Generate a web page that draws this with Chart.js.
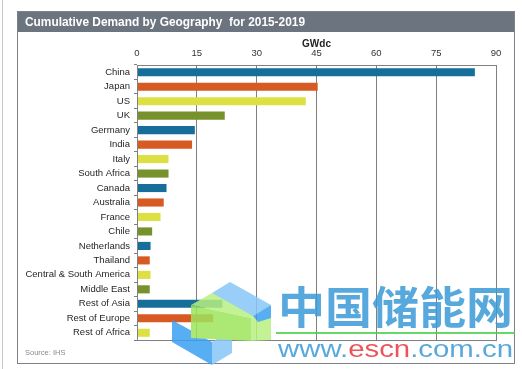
<!DOCTYPE html>
<html>
<head>
<meta charset="utf-8">
<script src="https://cdn.jsdelivr.net/npm/chart.js@4"></script>
<style>
  html, body { margin: 0; padding: 0; background: #fff; }
  #page { position: relative; width: 522px; height: 369px; overflow: hidden; }
  #edge { position: absolute; left: 2px; top: 0; width: 1px; height: 369px; background: #c9c9c9; }
  #frame { position: absolute; left: 17px; top: 11px; width: 498px; height: 353px; box-sizing: border-box; border: 1px solid #7d818a; }
  #titlebar { position: absolute; left: 0; top: 0; right: 0; height: 20px; background: #6c7480; }
  #chart { position: absolute; left: 0; top: 0; z-index: 1; }
  #overlay { position: absolute; left: 0; top: 0; z-index: 2; }
</style>
</head>
<body>
<div id="page">
  <div id="edge"></div>
  <div id="frame"><div id="titlebar"></div></div>
  <canvas id="chart" width="522" height="369"></canvas>
  <svg id="overlay" width="522" height="369" xmlns="http://www.w3.org/2000/svg">
    <text x="25" y="26" fill="#ffffff" font-family="Liberation Sans, Arial, sans-serif" font-weight="bold" font-size="13" textLength="280" lengthAdjust="spacingAndGlyphs" xml:space="preserve">Cumulative Demand by Geography  for 2015-2019</text>
    <text x="25" y="355" fill="#8a8a8a" font-family="Liberation Sans, Arial, sans-serif" font-size="7.5">Source: IHS</text>
    <!-- watermark -->
    <g opacity="0.85">
      <polygon points="172,320 212,342 212,365 172,342" fill="#3aa0f0"/>
      <polygon points="212,342 232,330 232,353 212,365" fill="#86c6f6"/>
      <polygon points="191,305 212,293 271,306 251,318" fill="#b8f080"/>
      <polygon points="191,305 251,318 251,341 191,338" fill="#9ee45c"/>
      <polygon points="251,318 271,306 271,340 251,341" fill="#b8f080"/>
      <polygon points="212,293 230,282 271,305 253,316" fill="#86c6f6"/>
      <polygon points="253,316 271,305 271,318 258,322" fill="#3aa0f0"/>
      <text x="278" y="324" fill="#3a9ad8" font-family="Noto Sans CJK SC" font-weight="bold" font-size="44" textLength="235" lengthAdjust="spacingAndGlyphs">中国储能网</text>
      <rect x="276" y="332" width="239" height="2" fill="#4cd24c"/>
      <text x="278" y="357" font-family="Liberation Sans, Arial, sans-serif" font-size="24" textLength="235" lengthAdjust="spacingAndGlyphs"><tspan fill="#3a9ad8">www.</tspan><tspan fill="#e8383d">escn</tspan><tspan fill="#3a9ad8">.com.cn</tspan></text>
    </g>
  </svg>
</div>
<script>
const regions = ["China", "Japan", "US", "UK", "Germany", "India", "Italy", "South Africa", "Canada", "Australia", "France", "Chile", "Netherlands", "Thailand", "Central & South America", "Middle East", "Rest of Asia", "Rest of Europe", "Rest of Africa"];
const demandGW = [84.7, 45.3, 42.3, 22, 14.5, 13.8, 7.9, 7.9, 7.4, 6.7, 5.9, 3.8, 3.4, 3.2, 3.4, 3.2, 21.4, 19.1, 3.2];
const xTicks = [0, 15, 30, 45, 60, 75, 90];
const palette = ["#156f9a", "#d75a23", "#dde043", "#77922c"];

const barColors = regions.map((r, i) => palette[i % palette.length]);

// box round the plot area
const plotBox = {
    id: "plotBox",
    afterDraw(chart) {
        const a = chart.chartArea;
        const ctx = chart.ctx;
        ctx.save();
        ctx.strokeStyle = "#808080";
        ctx.lineWidth = 1;
        ctx.strokeRect(Math.round(a.left) + 0.5, Math.round(a.top) + 0.5, Math.round(a.right - a.left), Math.round(a.bottom - a.top));
        ctx.restore();
    }
};

const font = { family: "'Liberation Sans', Arial, sans-serif", size: 9.5 };

new Chart(document.getElementById("chart"), {
    type: "bar",
    data: {
        labels: regions,
        datasets: [{
            data: demandGW,
            backgroundColor: barColors,
            barPercentage: 0.56,
            categoryPercentage: 1
        }]
    },
    options: {
        indexAxis: "y",
        responsive: false,
        animation: false,
        layout: { padding: { left: 0, top: 0, right: 26, bottom: 29 } },
        plugins: {
            legend: { display: false },
            tooltip: { enabled: false }
        },
        scales: {
            x: {
                position: "top",
                min: 0,
                max: 90,
                afterBuildTicks: (scale) => { scale.ticks = xTicks.map((v) => ({ value: v })); },
                afterFit: (scale) => { scale.height = 65; },
                ticks: { color: "#333", font: font, padding: 6, maxRotation: 0 },
                grid: { color: "#808080", drawTicks: false },
                border: { display: true, color: "#808080" },
                title: { display: true, text: "GWdc", color: "#222", font: { family: font.family, size: 10, weight: "bold" }, padding: { top: 38, bottom: 0 } }
            },
            y: {
                afterFit: (scale) => { scale.width = 137; },
                ticks: { color: "#262626", font: font, padding: 4, autoSkip: false },
                grid: { display: true, drawOnChartArea: false, drawTicks: true, tickLength: 3, color: "#808080" },
                border: { display: true, color: "#808080" }
            }
        }
    },
    plugins: [plotBox]
});
</script>
</body>
</html>
